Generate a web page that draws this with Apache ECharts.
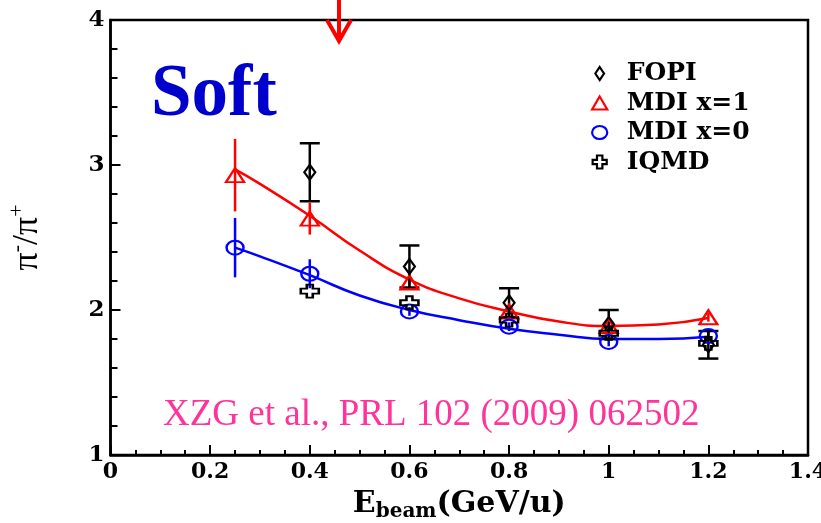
<!DOCTYPE html>
<html>
<head>
<meta charset="utf-8">
<script src="https://cdn.jsdelivr.net/npm/echarts@6/dist/echarts.min.js"></script>
<style>
  html, body { margin: 0; padding: 0; background: #fff; }
  #chart { width: 821px; height: 523px; }
</style>
</head>
<body>
<div id="chart"></div>
<script>
// Beam energies (GeV/u) of the transport-model points
const energies = [0.25, 0.4, 0.6, 0.8, 1.0, 1.2];
// MDI x=1 and x=0 pi-/pi+ ratios with their uncertainties
const mdiX1 = [2.93, 2.63, 2.19, 1.99, 1.89, 1.95];
const mdiX1Err = [0.25, 0.11, 0.04, 0.03, 0.03, 0.03];
const mdiX0 = [2.43, 2.25, 1.99, 1.885, 1.78, 1.82];
const mdiX0Err = [0.205, 0.10, 0.03, 0.03, 0.03, 0.03];
// FOPI data and IQMD results
const expEnergies = [0.4, 0.6, 0.8, 1.0, 1.2];
const fopi = [2.95, 2.30, 2.05, 1.90, 1.76];
const fopiErr = [0.20, 0.145, 0.10, 0.10, 0.095];
const iqmd = [2.13, 2.05, 1.93, 1.84, 1.77];
// Smooth fit curves through the MDI points
const fitEnergies = [0.25, 0.3, 0.4, 0.5, 0.6, 0.7, 0.8, 0.9, 1.0, 1.1, 1.2];
const fitX1 = [2.97, 2.87, 2.65, 2.41, 2.21, 2.08, 1.99, 1.92, 1.89, 1.90, 1.945];
const fitX0 = [2.43, 2.37, 2.24, 2.10, 2.00, 1.93, 1.87, 1.83, 1.80, 1.80, 1.815];

const RED = '#ff0000';
const BLUE = '#0000ff';
const BLACK = '#000000';
const LABEL_FONT = 'DejaVu Serif';

// outline symbols
const TRI = 'path://M9,0 L18,13 L0,13 Z';
const ELL = 'path://M0,7 A8.5,7 0 1,0 17,7 A8.5,7 0 1,0 0,7 Z';
const DIA = 'path://M5,0 L10,7 L5,14 L0,7 Z';
const PLUS = 'path://M6,0 H12 V4 H18 V9 H12 V13 H6 V9 H0 V4 H6 Z';

function zip(xs, ys) { return xs.map((x, i) => [x, ys[i]]); }
function zip3(xs, ys, es) { return xs.map((x, i) => [x, ys[i], es[i]]); }

function errorBars(name, data, color, cap) {
  return {
    name: name,
    type: 'custom',
    data: data,
    encode: { x: 0, y: 1 },
    z: 3,
    silent: true,
    renderItem: function (params, api) {
      const x = api.value(0), y = api.value(1), e = api.value(2);
      const top = api.coord([x, y + e]);
      const bot = api.coord([x, y - e]);
      const style = { stroke: color, lineWidth: 2.5, fill: null };
      const children = [{
        type: 'line',
        shape: { x1: top[0], y1: top[1], x2: bot[0], y2: bot[1] },
        style: style
      }];
      if (cap) {
        children.push({ type: 'line', shape: { x1: top[0] - 10, y1: top[1], x2: top[0] + 10, y2: top[1] }, style: style });
        children.push({ type: 'line', shape: { x1: bot[0] - 10, y1: bot[1], x2: bot[0] + 10, y2: bot[1] }, style: style });
      }
      return { type: 'group', children: children };
    }
  };
}

function points(name, data, symbol, size, color) {
  return {
    name: name,
    type: 'scatter',
    data: data,
    symbol: symbol,
    symbolSize: size,
    symbolKeepAspect: false,
    z: 4,
    itemStyle: { color: 'rgba(0,0,0,0)', borderColor: color, borderWidth: 2.2, opacity: 1 }
  };
}

const chart = echarts.init(document.getElementById('chart'), null, { renderer: 'canvas' });

chart.setOption({
  animation: false,
  backgroundColor: '#ffffff',
  grid: {
    left: 110.5, right: 13, top: 20, bottom: 68,
    outerBoundsMode: 'none',
    show: true, borderColor: BLACK, borderWidth: 2.5, backgroundColor: '#ffffff'
  },
  legend: {
    orient: 'vertical',
    left: 586, top: 56,
    itemWidth: 44, itemHeight: 13, itemGap: 4.5,
    selectedMode: false,
    textStyle: { fontFamily: LABEL_FONT, fontWeight: 'bold', fontSize: 25, color: BLACK },
    data: [
      { name: 'FOPI', icon: 'path://M4,0 L8,6 L4,12 L0,6 Z', itemStyle: { color: 'rgba(0,0,0,0)', borderColor: BLACK, borderWidth: 2.2 } },
      { name: 'MDI x=1', icon: 'path://M7,0 L14,12 L0,12 Z', itemStyle: { color: 'rgba(0,0,0,0)', borderColor: RED, borderWidth: 2.2 } },
      { name: 'MDI x=0', icon: 'path://M0,6 A7,6 0 1,0 14,6 A7,6 0 1,0 0,6 Z', itemStyle: { color: 'rgba(0,0,0,0)', borderColor: BLUE, borderWidth: 2.2 } },
      { name: 'IQMD', icon: 'path://M4,0 H9 V4 H13 V8 H9 V12 H4 V8 H0 V4 H4 Z', itemStyle: { color: 'rgba(0,0,0,0)', borderColor: BLACK, borderWidth: 2.2 } }
    ]
  },
  xAxis: {
    type: 'value',
    min: 0, max: 1.4, interval: 0.2,
    name: '{e|E}{s|beam}{e|(GeV/u)}',
    nameLocation: 'middle',
    nameGap: 31,
    nameTextStyle: {
      rich: {
        e: { fontFamily: LABEL_FONT, fontWeight: 'bold', fontSize: 30, color: BLACK },
        s: { fontFamily: LABEL_FONT, fontWeight: 'bold', fontSize: 20, color: BLACK, padding: [16, 0, 0, 0] }
      }
    },
    axisLine: { show: true, lineStyle: { color: BLACK, width: 2.5 } },
    axisTick: { show: true, inside: true, length: 10, lineStyle: { color: BLACK, width: 2 } },
    minorTick: { show: true, splitNumber: 4, length: 5, lineStyle: { color: BLACK, width: 2 } },
    splitLine: { show: false },
    axisLabel: {
      margin: 6,
      fontFamily: LABEL_FONT, fontWeight: 'bold', fontSize: 22, color: BLACK,
      formatter: function (v) { return String(Math.round(v * 10) / 10); }
    }
  },
  yAxis: {
    type: 'value',
    min: 1, max: 4, interval: 1,
    name: '{p|π}{m|-}{p|/π}{m|+}',
    nameLocation: 'middle',
    nameRotate: 90,
    nameGap: 62,
    nameTextStyle: {
      rich: {
        p: { fontFamily: 'Liberation Serif', fontSize: 36, color: BLACK },
        m: { fontFamily: 'Liberation Serif', fontSize: 22, color: BLACK, padding: [0, 0, 20, 0] }
      }
    },
    axisLine: { show: true, lineStyle: { color: BLACK, width: 2.5 } },
    axisTick: { show: true, inside: true, length: 10, lineStyle: { color: BLACK, width: 2 } },
    minorTick: { show: true, splitNumber: 5, length: 7, lineStyle: { color: BLACK, width: 2 } },
    splitLine: { show: false },
    axisLabel: {
      margin: 6,
      fontFamily: LABEL_FONT, fontWeight: 'bold', fontSize: 23, color: BLACK
    }
  },
  series: [
    {
      name: 'fit x=1', type: 'line', data: zip(fitEnergies, fitX1), smooth: 0.5,
      showSymbol: false, z: 2, silent: true,
      lineStyle: { color: RED, width: 2.5 }
    },
    {
      name: 'fit x=0', type: 'line', data: zip(fitEnergies, fitX0), smooth: 0.5,
      showSymbol: false, z: 2, silent: true,
      lineStyle: { color: BLUE, width: 2.5 }
    },
    errorBars('err x=1', zip3(energies, mdiX1, mdiX1Err), RED, false),
    errorBars('err x=0', zip3(energies, mdiX0, mdiX0Err), BLUE, false),
    errorBars('err FOPI', zip3(expEnergies, fopi, fopiErr), BLACK, true),
    points('MDI x=1', zip(energies, mdiX1), TRI, [18, 14], RED),
    points('MDI x=0', zip(energies, mdiX0), ELL, [17, 14], BLUE),
    points('FOPI', zip(expEnergies, fopi), DIA, [11, 15], BLACK),
    points('IQMD', zip(expEnergies, iqmd), PLUS, [18, 13], BLACK)
  ],
  graphic: [
    {
      type: 'text', left: 151, top: 60, z: 10,
      style: { text: 'Soft', font: 'bold 73px "Liberation Serif"', fill: '#0000cc' }
    },
    {
      type: 'text', left: 163, top: 397, z: 10,
      style: { text: 'XZG et al., PRL 102 (2009) 062502', font: '37px "Liberation Serif"', fill: '#ff3399' }
    },
    {
      type: 'group', z: 10,
      children: [
        { type: 'line', shape: { x1: 339, y1: 0, x2: 339, y2: 41 }, style: { stroke: RED, lineWidth: 4 } },
        { type: 'polyline', shape: { points: [[327, 20], [339, 41], [351, 20]] }, style: { stroke: RED, lineWidth: 4, fill: null } }
      ]
    }
  ]
});
</script>
</body>
</html>
